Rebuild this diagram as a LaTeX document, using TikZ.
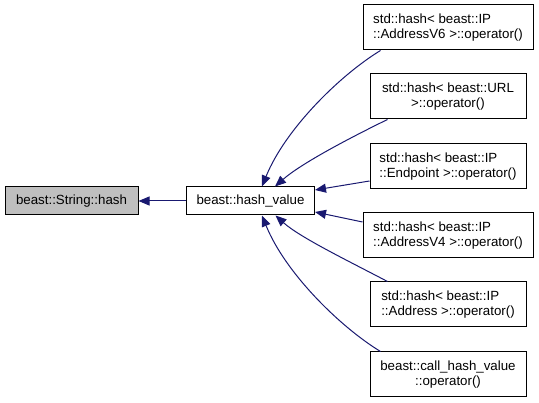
\documentclass[tikz,border=0pt]{standalone}
\usepackage{fontspec}
\setmainfont{Liberation Sans}
\usetikzlibrary{arrows.meta,calc}
\definecolor{edgecol}{HTML}{191970}
\definecolor{grayfill}{HTML}{BFBFBF}
\begin{document}
\begin{tikzpicture}[x=1pt,y=-1pt,
  box/.style={draw=black,line width=1pt,rectangle,inner sep=0pt,font=\fontsize{13.3}{15}\selectfont},
  rbox/.style={box,minimum height=45pt},
  edge/.style={draw=edgecol,line width=1pt,-{Triangle[length=11pt,width=9pt]}}]
\useasboundingbox (0,0) rectangle (539,403);
\node[box,fill=grayfill,minimum width=133pt,minimum height=28pt] (s) at (71.5,201) {beast::String::hash};
\node[box,minimum width=128pt,minimum height=28pt] (hv) at (250.5,201) {beast::hash\_value};
\node[rbox,minimum width=170pt,align=left] (b1) at (448,27.5) {std::hash< beast::IP\\::AddressV6 >::operator()};
\node[rbox,minimum width=156pt,align=center] (b2) at (448,96.5) {std::hash< beast::URL\\>::operator()};
\node[rbox,minimum width=156pt,align=left] (b3) at (448,166.5) {std::hash< beast::IP\\::Endpoint >::operator()};
\node[rbox,minimum width=170pt,align=left] (b4) at (448,235.5) {std::hash< beast::IP\\::AddressV4 >::operator()};
\node[rbox,minimum width=156pt,align=left] (b5) at (448,304.5) {std::hash< beast::IP\\::Address >::operator()};
\node[rbox,minimum width=156pt,align=center] (b6) at (448,374.5) {beast::call\_hash\_value\\::operator()};
\draw[edge] (hv.west) -- (s.east);
\draw[edge] ($(b1.south west)+(18,0)$) .. controls +(-41,25) and +(23,-57) .. ($(hv.north)+(11.5,0)$);
\draw[edge] ($(b2.south west)+(18,0)$) .. controls +(-43,21) and +(25,-22) .. ($(hv.north)+(24.5,0)$);
\draw[edge] ($(b3.west)+(0,14.5)$) -- ($(hv.east)+(0,-11)$);
\draw[edge] ($(b4.west)+(0,-13.5)$) -- ($(hv.east)+(0,11)$);
\draw[edge] ($(b5.north west)+(18,0)$) .. controls +(-38,-20) and +(24.5,22) .. ($(hv.south)+(25,0)$);
\draw[edge] ($(b6.north west)+(11,0)$) .. controls +(-41,-25) and +(23,57) .. ($(hv.south)+(11.5,0)$);
\end{tikzpicture}
\end{document}
